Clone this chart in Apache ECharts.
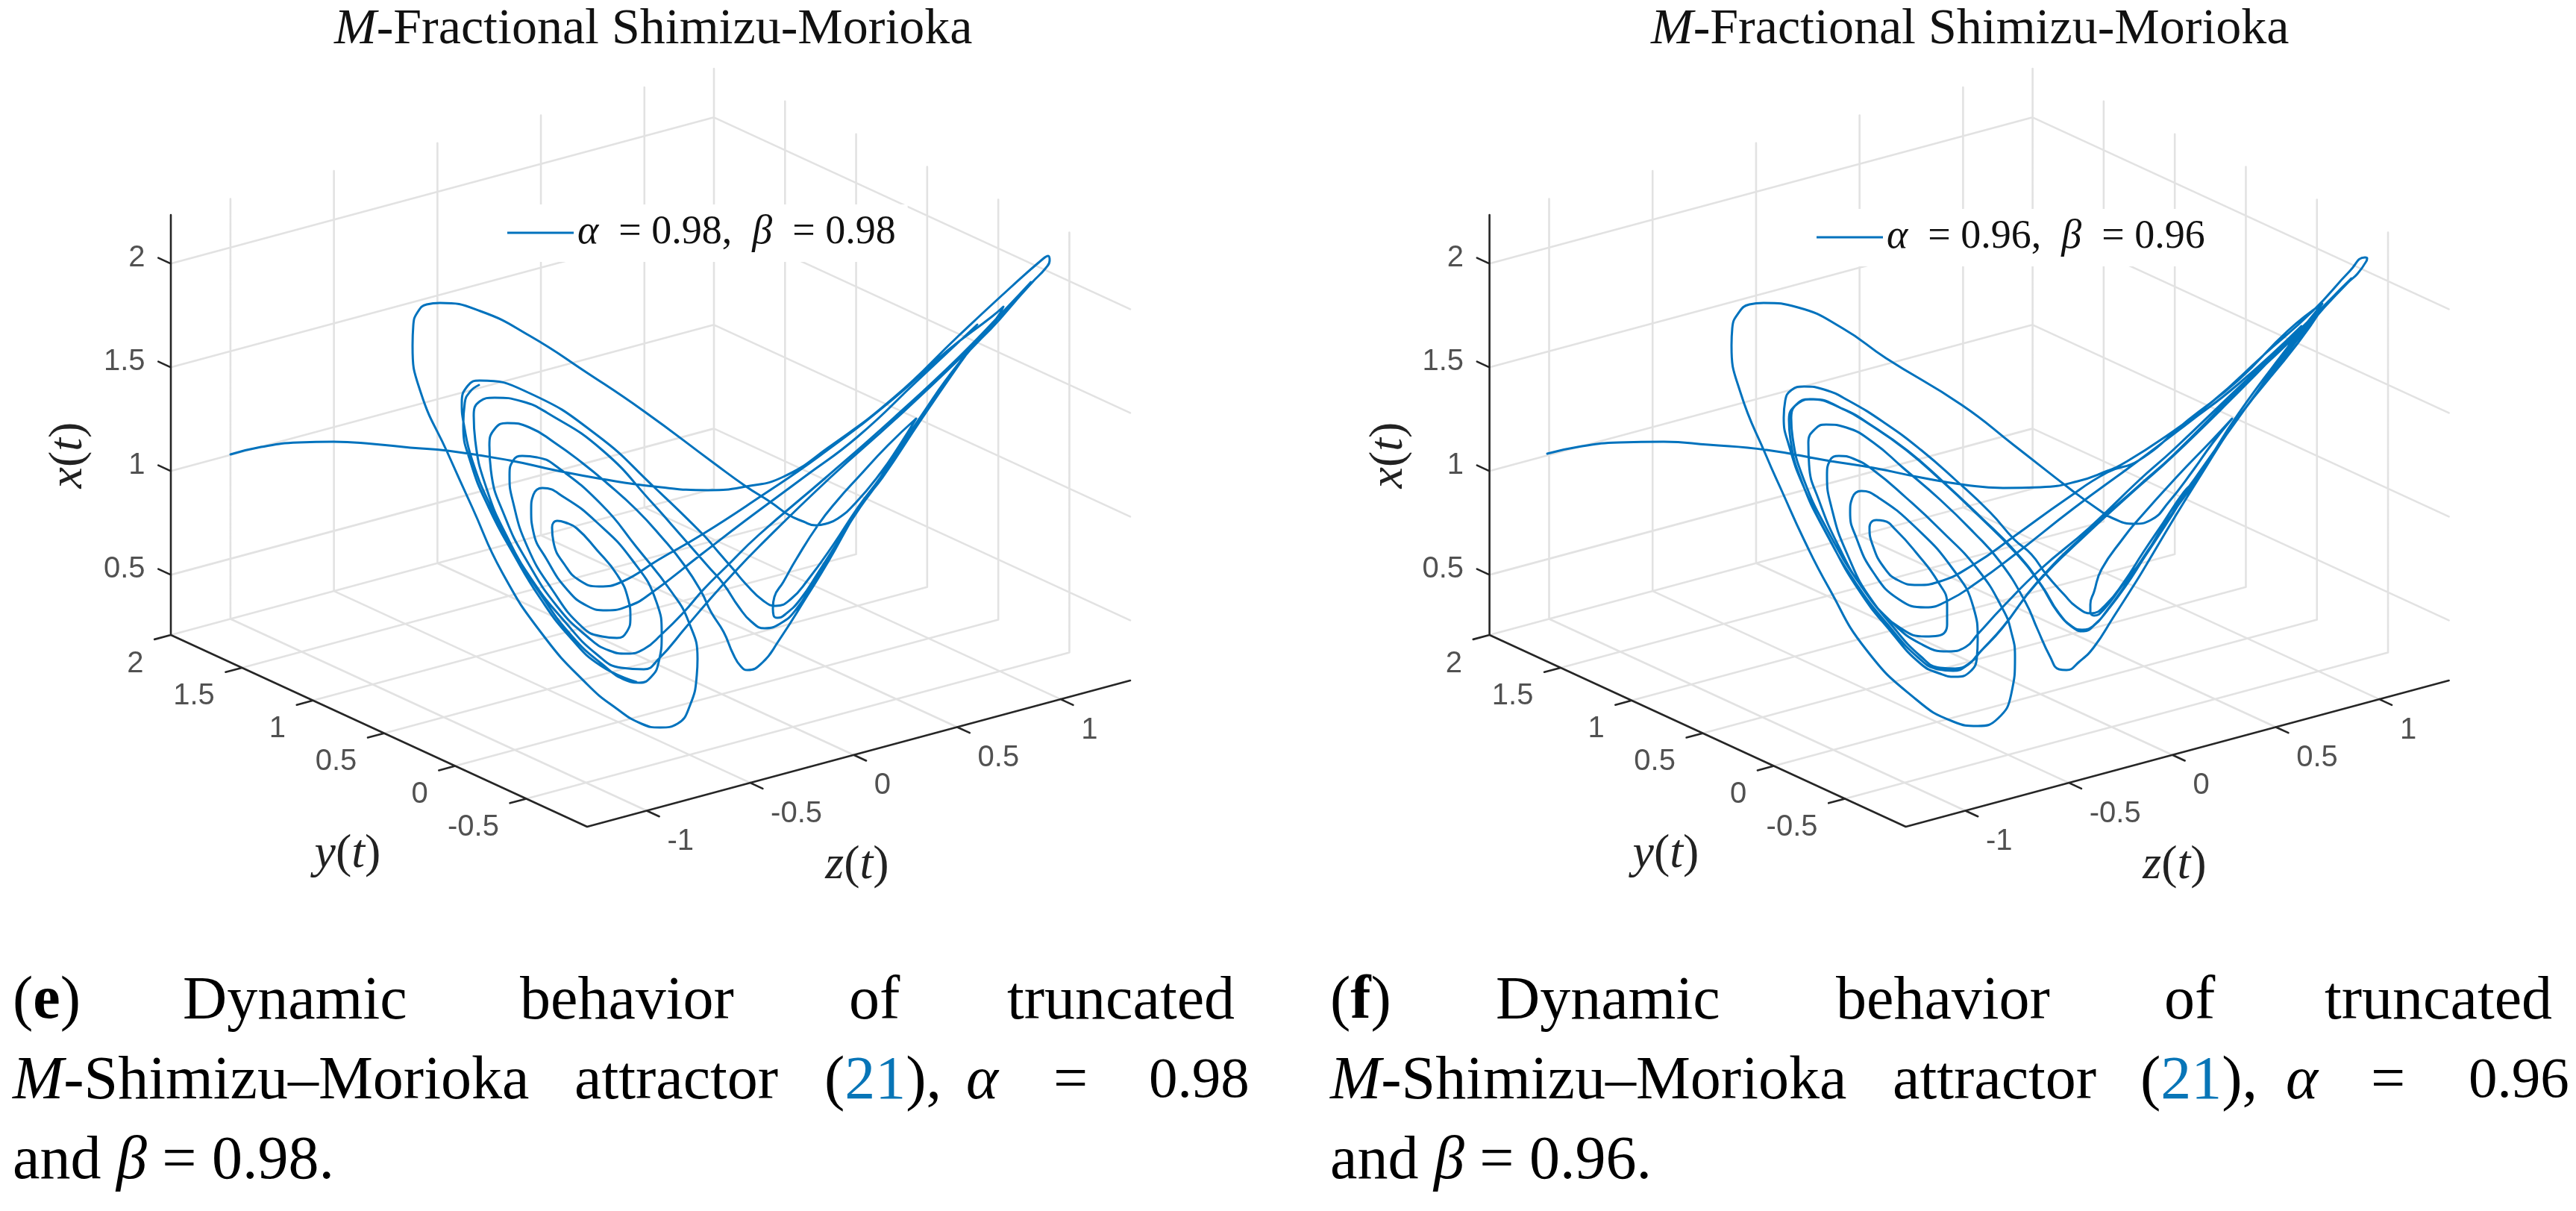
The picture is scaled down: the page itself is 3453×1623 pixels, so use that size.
<!DOCTYPE html>
<html>
<head>
<meta charset="utf-8">
<title>M-Fractional Shimizu-Morioka</title>
<script src="https://cdn.jsdelivr.net/npm/echarts@6/dist/echarts.min.js"></script>
<style>html,body{margin:0;padding:0;background:#fff}#c{width:3453px;height:1623px}</style>
</head>
<body>
<div id="c"></div>
<script>
// ---------- values ----------
const xTicks = [0.5, 1, 1.5, 2];
const yTicks = [-0.5, 0, 0.5, 1, 1.5, 2];
const zTicks = [-1, -0.5, 0, 0.5, 1];
const nameLeft = 'alpha = 0.98, beta = 0.98';
const nameRight = 'alpha = 0.96, beta = 0.96';
const legendLeft = '{i|α}  = 0.98,  {i|β}  = 0.98';
const legendRight = '{i|α}  = 0.96,  {i|β}  = 0.96';
const titleText = '{i|M}-Fractional Shimizu-Morioka';

// Projected trajectory of each panel (null = pen lift)
const trajLeft = [
[309,609],[350,599],[400,593],[447,592],[500,595],[550,600],[600,604],[683,617],[743,630],[807,642],[877,652],[950,657],[1000,652],[1050,639],[1110,600],[1198,533],[1286,449],[1356,384],[1398,347],[1405,343],[1407,349],
[1402,359],[1384,378],[1339,428],[1286,486],[1233,560],[1180,640],[1150,683],[1110,753],[1083,797],[1043,860],[1022,888],[1002,898],[993,893],[983,877],[970,847],[953,820],[940,793],[917,757],[887,720],[853,683],[813,647],[780,620],[743,593],[710,573],[680,567],
[663,575],[656,597],[658,630],[677,693],[707,753],[747,813],[787,853],[817,872],[840,876],[863,870],[887,850],[917,820],[943,790],[973,760],[1017,717],[1107,640],[1198,560],[1286,478],[1350,412],[1382,378],
[1340,428],[1286,486],[1233,562],[1182,640],[1153,680],[1123,727],[1093,777],[1067,817],[1047,835],[1025,842],[1007,833],[990,813],[970,783],[950,760],[900,703],[877,677],[807,603],[733,553],[700,538],[663,533],
[643,538],[635,557],[637,590],[653,657],[680,720],[713,777],[757,833],[800,877],[833,895],[863,897],[883,883],[920,840],[950,805],[977,775],[1017,733],[1113,640],[1200,562],[1286,481],[1310,455],
[1286,488],[1235,562],[1183,640],[1157,673],[1127,720],[1097,767],[1073,803],[1053,823],[1042,828],[1037,825],[1036,815],[1038,800],[1050,780],[1067,750],[1097,703],[1123,670],[1150,640],[1190,597],[1228,561],[1205,598],
[1181,633],[1146,675],[1123,695],[1107,702],[1093,704],[1077,699],[1057,690],[1033,673],[1000,652],[956,620],[863,551],[786,499],[710,450],[644,417],[590,406],
[572,408],[560,418],[554,436],[553,463],[564,526],[600,607],[633,680],[673,767],[727,850],[787,917],[827,950],[860,970],[885,975],[908,970],[925,945],[934,905],[935,883],[923,833],[900,793],[853,733],[807,677],[743,623],[720,613],[700,611],
[688,617],[683,637],[687,670],[707,733],[740,790],[780,840],[807,853],[827,855],[840,847],[845,827],[842,803],[827,770],[800,737],[773,708],[757,700],[747,698],
[740,707],[742,727],[757,757],[777,778],[803,786],[833,780],[883,750],[940,717],[1017,667],[1100,610],[1198,534],[1270,470],[1330,424],[1345,411],[1335,428],
[1286,486],[1233,561],[1180,640],[1150,680],[1117,730],[1083,777],[1060,803],[1040,812],[1023,805],[1000,783],[983,763],[963,740],[943,717],[877,653],[800,583],[710,527],[643,510],
[627,517],[619,540],[622,570],[633,617],[657,677],[690,740],[727,800],[767,853],[807,890],[840,912],[857,915],[873,907],[883,887],[887,850],[880,807],[847,750],[800,700],[757,667],[727,654],
[715,663],[712,683],[715,713],[733,750],[760,790],[787,812],[813,818],[843,812],[870,797],[940,743],[1000,697],[1077,640],[1150,585],[1230,510],[1310,435],
null,
[853,914],[805,892],[765,855],[725,803],[688,742],[655,680],[631,620],[621,570],[623,540],[630,525],[642,516]
];

const trajRight = [
[2074,608],[2115,599],[2170,593],[2230,592],[2290,596],[2368,603],[2448,617],[2511,627],[2575,640],[2635,650],[2685,654],[2735,653],[2785,645],[2825,631],[2843,623],[2900,587],[2967,537],[3033,477],[3100,417],[3150,363],[3170,345],[3173,346],[3172,350],
[3160,367],[3147,379],[3100,430],[3033,517],[2993,570],[2950,637],[2917,690],[2877,757],[2863,780],[2833,827],[2807,867],[2787,887],[2770,898],[2760,897],[2748,880],[2731,843],[2715,807],[2681,753],[2645,713],[2601,670],[2551,627],[2511,593],[2475,573],[2448,569],
[2433,575],[2424,593],[2425,623],[2438,670],[2465,733],[2498,790],[2535,833],[2575,863],[2611,873],[2635,867],[2651,850],[2685,813],[2735,763],[2801,707],[2868,643],[2913,603],[3000,520],[3067,457],[3152,373],
[3100,428],[3047,497],[2993,570],[2943,640],[2927,663],[2900,707],[2873,747],[2847,787],[2823,820],[2807,838],[2791,844],[2778,840],[2758,820],[2735,783],[2701,740],[2651,690],[2601,643],[2555,603],[2508,570],[2468,547],[2431,535],
[2411,540],[2401,560],[2403,587],[2418,643],[2451,713],[2491,780],[2535,837],[2575,880],[2601,895],[2621,896],[2641,888],[2655,873],[2685,840],[2731,780],[2801,710],[2868,650],[2913,610],[3000,523],[3067,460],[3113,413],
[3080,460],[3000,560],[2950,635],[2900,705],[2873,748],[2843,787],[2820,817],[2807,825],[2802,820],[2802,810],[2807,793],[2817,763],[2847,720],[2863,700],[2917,640],[2965,590],[2992,561],[2965,595],
[2940,630],[2907,673],[2883,697],[2860,702],[2833,695],[2813,683],[2777,657],[2700,597],[2630,543],[2528,480],[2470,440],[2410,412],[2364,406],
[2345,408],[2330,420],[2322,440],[2321,463],[2333,526],[2368,612],[2388,657],[2418,723],[2451,787],[2501,870],[2568,937],[2618,967],[2651,973],[2678,963],[2696,930],[2701,880],[2696,847],[2685,817],[2651,763],[2601,710],[2555,667],[2511,630],[2485,615],[2465,611],
[2453,617],[2449,637],[2455,680],[2475,740],[2511,807],[2548,842],[2581,853],[2598,852],[2610,837],[2610,810],[2598,780],[2568,740],[2541,710],[2525,698],[2515,697],
[2506,707],[2510,730],[2525,760],[2545,778],[2571,784],[2598,780],[2645,757],[2701,718],[2768,670],[2825,633],[2867,617],[2933,563],[3000,510],[3067,443],[3113,407],
[3067,465],[3000,555],[2945,640],[2927,660],[2900,700],[2873,740],[2847,780],[2823,810],[2803,822],[2783,813],[2767,797],[2743,770],[2723,743],[2700,723],[2668,687],[2621,643],[2575,603],[2528,568],[2478,537],[2445,522],[2418,518],
[2401,523],[2393,537],[2391,560],[2398,597],[2418,653],[2451,720],[2491,790],[2535,847],[2575,890],[2601,903],[2621,907],[2641,900],[2650,880],[2651,857],[2645,813],[2618,763],[2568,707],[2518,667],[2495,658],
[2483,667],[2480,687],[2488,720],[2511,767],[2545,803],[2581,814],[2611,805],[2651,780],[2701,743],[2780,681],[2863,620],[2933,567],[3000,515],[3085,437],
[3050,490],[2995,568],[2945,638],[2902,705],[2875,746],[2849,786],[2825,818],[2809,836],[2793,846],[2780,842],[2760,822],[2737,785],[2703,741],[2653,691],[2603,644],[2557,604],[2510,571],[2470,548],[2426,535],
[2408,542],[2398,562],[2400,589],[2415,645],[2448,715],[2488,782],[2532,839],[2572,882],[2598,897],[2618,899],[2638,891],[2652,876],[2683,843],[2729,783],[2800,713],[2866,653],[2911,613],[3000,526],[3045,480]
];

// Caption words: [text, left edge, line]
const captionLeft = [
['({b|e})',17,0],['Dynamic',245,0],['behavior',697,0],['of',1138,0],['truncated',1350,0],
['{i|M}-Shimizu–Morioka',17,1],['attractor',770,1],['({a|21}),',1105,1],['{i|α}',1295,1],['=',1412,1],['{d|0.98}',1540,1],
['and {i|β} = 0.98.',17,2]
];
const captionRight = [
['({b|f})',1783,0],['Dynamic',2005,0],['behavior',2461,0],['of',2901,0],['truncated',3116,0],
['{i|M}-Shimizu–Morioka',1783,1],['attractor',2537,1],['({a|21}),',2869,1],['{i|α}',3064,1],['=',3178,1],['{d|0.96}',3309,1],
['and {i|β} = 0.96.',1783,2]
];

// ---------- box geometry of the 3-D view ----------
const xRange = [0.21, 2.235], yRange = [-0.928, 2], zRange = [-1.288, 1.336];
const box = {ox:229, oy:851, zdx:728, zdy:-196, ydx:558, ydy:257, xdy:-563};
function project(dxPanel, x, y, z) {
  const fz = (z - zRange[0]) / (zRange[1] - zRange[0]);
  const fy = (yRange[1] - y) / (yRange[1] - yRange[0]);
  const fx = (x - xRange[0]) / (xRange[1] - xRange[0]);
  return [box.ox + dxPanel + fz * box.zdx + fy * box.ydx, box.oy + fz * box.zdy + fy * box.ydy + fx * box.xdy];
}
function gridPath(d) {
  const p = [];
  const seg = (a, b) => { p.push(project(d, ...a), project(d, ...b), null); };
  xTicks.forEach(x => { // walls
    seg([x, yRange[1], zRange[0]], [x, yRange[1], zRange[1]]);
    seg([x, yRange[1], zRange[1]], [x, yRange[0], zRange[1]]);
  });
  zTicks.forEach(z => {
    seg([xRange[0], yRange[1], z], [xRange[1], yRange[1], z]);
    seg([xRange[0], yRange[1], z], [xRange[0], yRange[0], z]);
  });
  yTicks.forEach(y => {
    seg([xRange[0], y, zRange[1]], [xRange[1], y, zRange[1]]);
    seg([xRange[0], y, zRange[0]], [xRange[0], y, zRange[1]]);
  });
  return p;
}
function axisPath(d) {
  const p = [];
  const seg = (a, b) => { p.push(project(d, ...a), project(d, ...b), null); };
  seg([xRange[0], yRange[1], zRange[0]], [xRange[1], yRange[1], zRange[0]]);
  seg([xRange[0], yRange[1], zRange[0]], [xRange[0], yRange[0], zRange[0]]);
  seg([xRange[0], yRange[0], zRange[0]], [xRange[0], yRange[0], zRange[1]]);
  const ty = 0.03 * (yRange[1] - yRange[0]), tz = 0.03 * (zRange[1] - zRange[0]);
  xTicks.forEach(x => seg([x, yRange[1], zRange[0]], [x, yRange[1] + ty, zRange[0]]));
  yTicks.forEach(y => seg([xRange[0], y, zRange[0]], [xRange[0], y, zRange[0] - tz]));
  zTicks.forEach(z => seg([xRange[0], yRange[0], z], [xRange[0], yRange[0] - ty, z]));
  return p;
}
const tickColor = '#262626', gridColor = '#E2E2E2', lineColor = '#0072BD';
const sans = '"Liberation Sans", Arial, sans-serif', serif = '"Liberation Serif", "Times New Roman", serif';
function tickLabels(d) {
  const item = (pos, dx, dy, text, align) => ({
    value: [pos[0] + dx, pos[1] + dy],
    label: {formatter: text, align, verticalAlign: 'middle'}
  });
  const out = [];
  xTicks.forEach(x => out.push(item(project(d, x, yRange[1], zRange[0]), -34, -7, String(x), 'right')));
  yTicks.forEach(y => out.push(item(project(d, xRange[0], y, zRange[0]), -36, 39, String(y), 'right')));
  zTicks.forEach(z => out.push(item(project(d, xRange[0], yRange[0], z), 28, 42, String(z), 'left')));
  return out;
}
const d2 = 1767.6;
function lineSeries(name, data, color, width, z, smooth) {
  return {name, type: 'line', data, showSymbol: false, symbol: 'none', smooth: smooth || false, connectNulls: false, clip: false,
    silent: true, animation: false, z, lineStyle: {color, width, cap: 'round', join: 'round'}, itemStyle: {color}};
}
function labelSeries(data) {
  return {type: 'scatter', data, symbolSize: 1, itemStyle: {color: 'rgba(0,0,0,0)'}, silent: true, animation: false, z: 5, clip: false,
    label: {show: true, position: [0, 0], color: tickColor, fontSize: 40, fontFamily: sans}};
}
const mathRich = size => ({
  i: {fontStyle: 'italic', fontFamily: serif, fontSize: size, color: '#111'}
});
function mathText(text, x, y, size, rotation) {
  return {type: 'text', x, y, rotation: rotation || 0, z: 10, silent: true,
    style: {text, fontFamily: serif, fontSize: size, fill: '#222', align: 'center', verticalAlign: 'middle',
      rich: {i: {fontStyle: 'italic', fontFamily: serif, fontSize: size, fill: '#222'}}}};
}
const capSize = 82, lineY = [1343, 1450, 1557];
function captionItems(words) {
  return words.map(([text, x, line]) => ({
    type: 'text', x, y: lineY[line], z: 10, silent: true,
    style: {text, fontFamily: serif, fontSize: capSize, fill: '#000', align: 'left', verticalAlign: 'middle',
      rich: {
        i: {fontStyle: 'italic', fontFamily: serif, fontSize: capSize, fill: '#000'},
        b: {fontWeight: 'bold', fontFamily: serif, fontSize: capSize, fill: '#000'},
        a: {fontFamily: serif, fontSize: capSize, fill: '#0875B7'},
        d: {fontFamily: serif, fontSize: 77, fill: '#000'}
      }}
  }));
}
function titleItem(text, left) {
  return {text, left, top: 6, textAlign: 'left', padding: 0,
    textStyle: {fontFamily: serif, fontSize: 68, fontWeight: 'normal', color: '#111',
      rich: {i: {fontStyle: 'italic', fontFamily: serif, fontSize: 68, color: '#111', fontWeight: 'normal'}}}};
}
function legendItem(name, left, top) {
  return {data: [name], left, top, orient: 'horizontal', padding: [11, 16, 12, 10], itemWidth: 89, itemHeight: 3, itemGap: 0,
    icon: 'rect', selectedMode: false, backgroundColor: '#fff',
    formatter: () => name === nameLeft ? legendLeft : legendRight,
    textStyle: {fontFamily: serif, fontSize: 54, color: '#111', rich: mathRich(54)}};
}
const chart = echarts.init(document.getElementById('c'), null, {renderer: 'canvas', width: 3453, height: 1623});
chart.setOption({
  backgroundColor: '#fff',
  animation: false,
  title: [titleItem(titleText, 448), titleItem(titleText, 2213)],
  legend: [legendItem(nameLeft, 670, 274), legendItem(nameRight, 2425, 280)],
  grid: {left: 0, top: 0, width: 3453, height: 1623, containLabel: false},
  xAxis: {type: 'value', min: 0, max: 3453, show: false},
  yAxis: {type: 'value', min: 0, max: 1623, inverse: true, show: false},
  series: [
    lineSeries('gridL', gridPath(0), gridColor, 2.6, 1),
    lineSeries('gridR', gridPath(d2), gridColor, 2.6, 1),
    lineSeries('axisL', axisPath(0), tickColor, 2.6, 3),
    lineSeries('axisR', axisPath(d2), tickColor, 2.6, 3),
    lineSeries(nameLeft, trajLeft, lineColor, 3, 2, 0.5),
    lineSeries(nameRight, trajRight, lineColor, 3, 2, 0.5),
    labelSeries(tickLabels(0)),
    labelSeries(tickLabels(d2))
  ],
  graphic: [
    mathText('{i|x}({i|t})', 92, 610, 64, Math.PI / 2),
    mathText('{i|y}({i|t})', 466, 1145, 64),
    mathText('{i|z}({i|t})', 1149, 1160, 64),
    mathText('{i|x}({i|t})', 92 + d2 + 3, 610, 64, Math.PI / 2),
    mathText('{i|y}({i|t})', 2233, 1145, 64),
    mathText('{i|z}({i|t})', 2915, 1160, 64)
  ].concat(captionItems(captionLeft), captionItems(captionRight))
});
</script>
</body>
</html>
